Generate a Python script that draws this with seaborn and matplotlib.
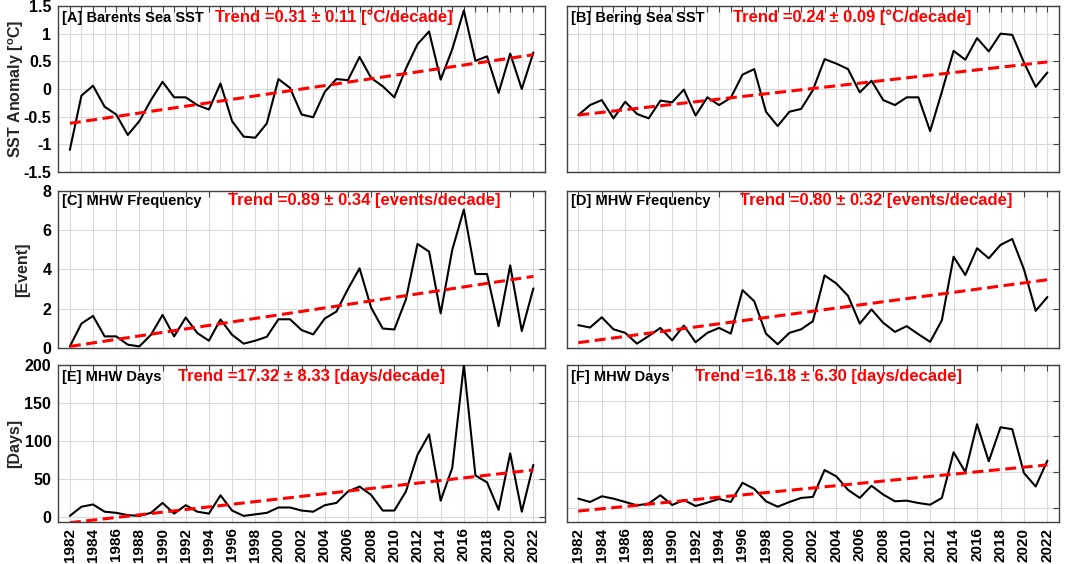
"""
Barents / Bering Sea SST anomaly, MHW frequency and MHW days, 1982-2022,
each panel with its linear trend.
"""
import numpy as np
import pandas as pd
import seaborn as sns
import matplotlib.pyplot as plt
from matplotlib.ticker import FixedLocator, FuncFormatter

years = np.arange(1982, 2023)

barents_sst = [-1.10, -0.12, 0.06, -0.32, -0.46, -0.83, -0.58, -0.20, 0.13, -0.15,
               -0.15, -0.29, -0.37, 0.10, -0.58, -0.86, -0.88, -0.62, 0.18, 0.02,
               -0.46, -0.51, -0.05, 0.18, 0.16, 0.58, 0.20, 0.05, -0.15, 0.37,
               0.81, 1.04, 0.17, 0.72, 1.42, 0.51, 0.59, -0.07, 0.64, 0.00, 0.66]
bering_sst = [-0.47, -0.29, -0.20, -0.53, -0.23, -0.45, -0.53, -0.21, -0.24, -0.01,
              -0.48, -0.15, -0.29, -0.16, 0.26, 0.36, -0.41, -0.67, -0.41, -0.36,
              -0.02, 0.54, 0.46, 0.36, -0.06, 0.15, -0.20, -0.29, -0.15, -0.15,
              -0.76, -0.05, 0.69, 0.53, 0.92, 0.68, 1.00, 0.98, 0.48, 0.04, 0.30]
barents_freq = [0.08, 1.24, 1.63, 0.59, 0.59, 0.17, 0.08, 0.67, 1.68, 0.59,
                1.55, 0.76, 0.37, 1.45, 0.67, 0.22, 0.37, 0.57, 1.46, 1.46,
                0.91, 0.69, 1.50, 1.85, 3.00, 4.05, 2.05, 0.99, 0.94, 2.47,
                5.29, 4.90, 1.76, 4.99, 7.04, 3.76, 3.76, 1.11, 4.20, 0.86, 3.03]
bering_freq = [1.16, 1.04, 1.56, 0.95, 0.77, 0.22, 0.61, 1.02, 0.39, 1.14,
               0.29, 0.77, 1.02, 0.73, 2.94, 2.38, 0.73, 0.19, 0.77, 0.95,
               1.36, 3.69, 3.28, 2.65, 1.24, 1.96, 1.28, 0.82, 1.11, 0.70,
               0.31, 1.41, 4.64, 3.71, 5.07, 4.56, 5.24, 5.54, 4.00, 1.89, 2.59]
barents_days = [2, 14, 17, 7.5, 6, 3, 2, 6, 19, 5,
                16, 7.5, 5, 29, 9, 2, 4, 6, 13, 13,
                9, 7.5, 16, 19, 34, 40.5, 29.5, 9, 9, 34,
                82, 109, 22, 65, 200, 55, 46, 10, 84, 7.5, 69]
bering_days = [12.7, 8.0, 16.0, 12.7, 8.0, 3.3, 5.7, 17.5, 3.8, 10.8,
               2.4, 7.1, 12.3, 8.0, 34.9, 26.4, 9.0, 1.4, 8.0, 13.7,
               15.1, 52.8, 43.9, 25.0, 13.7, 30.7, 18.4, 9.0, 9.9, 6.6,
               4.2, 13.7, 77.8, 50.0, 117.0, 65.0, 112.7, 110.0, 48.6, 29.7, 66.0]

# trend per decade, its error and the fitted value in 1982
trend_slope = [0.31, 0.24, 0.89, 0.80, 17.32, 16.18]
trend_err = [0.11, 0.09, 0.34, 0.32, 8.33, 6.30]
trend_start = [-0.62, -0.47, 0.08, 0.27, -7.0, -4.7]

panel_tags = ['[A] Barents Sea SST', '[B] Bering Sea SST',
              '[C] MHW Frequency', '[D] MHW Frequency',
              '[E] MHW Days', '[F] MHW Days']
trend_units = ['°C/decade', '°C/decade', 'events/decade', 'events/decade',
               'days/decade', 'days/decade']
row_ylabels = [r'SST Anomaly [$^{\mathbf{o}}$C]', '[Event]', '[Days]']
row_yticks = [[-1.5, -1, -0.5, 0, 0.5, 1, 1.5], [0, 2, 4, 6, 8], [0, 50, 100, 150, 200]]
panel_ylims = [(-1.5, 1.5), (-1.5, 1.5), (0, 8), (0, 8), (-6, 200), (-20, 200)]

series = [barents_sst, bering_sst, barents_freq, bering_freq, barents_days, bering_days]

# layout in figure fractions
COL_X = [(0.0547, 0.457), (0.532, 0.4625)]
ROW_Y = [(0.695, 0.2943), (0.383, 0.279), (0.0745, 0.2784)]
TAG_Y = [0.93, 0.93, 0.935, 0.935, 0.925, 0.925]
TREND_X = [0.322, 0.337, 0.349, 0.352, 0.246, 0.26]
YLABEL_X = [-0.066, -0.058, -0.074]

sns.set_theme(style='white')
plt.rcParams['font.family'] = ['Liberation Sans', 'DejaVu Sans']
plt.rcParams['font.weight'] = 'bold'
plt.rcParams['axes.labelweight'] = 'bold'
plt.rcParams['axes.unicode_minus'] = False
plt.rcParams['mathtext.fontset'] = 'custom'
plt.rcParams['mathtext.bf'] = 'Liberation Sans:bold'
plt.rcParams['mathtext.rm'] = 'Liberation Sans:bold'

EDGE = '#404040'

fig = plt.figure(figsize=(10.65, 5.64), dpi=100)

for i, values in enumerate(series):
    row, col = divmod(i, 2)
    x0, w = COL_X[col]
    y0, h = ROW_Y[row]
    ax = fig.add_axes([x0, y0, w, h])

    df = pd.DataFrame({'year': years, 'value': values})
    df['trend'] = trend_start[i] + trend_slope[i] / 10 * (df['year'] - 1982)

    sns.lineplot(data=df, x='year', y='value', color='black', lw=1.5, ax=ax, zorder=3)
    sns.lineplot(data=df, x='year', y='trend', color='#ff0000', lw=2.2, ax=ax, zorder=4)
    ax.lines[-1].set_dashes((3.6, 1.8))

    ax.set_xlim(1981, 2023)
    ax.set_ylim(*panel_ylims[i])
    step = 1 if row == 0 else 2
    ax.xaxis.set_major_locator(FixedLocator(list(range(1982, 2023, step))))
    ax.yaxis.set_major_locator(FixedLocator(row_yticks[row]))
    ax.yaxis.set_major_formatter(FuncFormatter(lambda v, p: f'{v:g}'))
    ax.xaxis.set_major_formatter(FuncFormatter(lambda v, p: f'{int(v)}'))

    ax.grid(True, color='#dadada', lw=0.8)
    ax.set_axisbelow(True)
    ax.tick_params(direction='in', top=True, right=True, length=4, width=0.8,
                   color=EDGE, labelsize=11.5, labelcolor='black', pad=5)
    for s in ax.spines.values():
        s.set_color(EDGE)
        s.set_linewidth(1.0)

    ax.set_xlabel('')
    if row < 2:
        ax.tick_params(labelbottom=False)
    else:
        ax.tick_params(axis='x', labelrotation=90, labelsize=11, pad=4)
    if col == 0:
        ax.set_ylabel(row_ylabels[row], fontsize=11.5)
        ax.yaxis.set_label_coords(YLABEL_X[row], 0.5)
    else:
        ax.set_ylabel('')
        ax.tick_params(labelleft=False)

    ax.text(0.008, TAG_Y[i], panel_tags[i], transform=ax.transAxes,
            fontsize=10.5, fontweight='bold', color='black', va='center', ha='left')
    ax.text(TREND_X[i], TAG_Y[i],
            f'Trend ={trend_slope[i]:.2f} ± {trend_err[i]:.2f} [{trend_units[i]}]',
            transform=ax.transAxes, fontsize=12, fontweight='bold', color='#ff0000',
            va='center', ha='left')

fig.savefig('out.png', dpi=100)
